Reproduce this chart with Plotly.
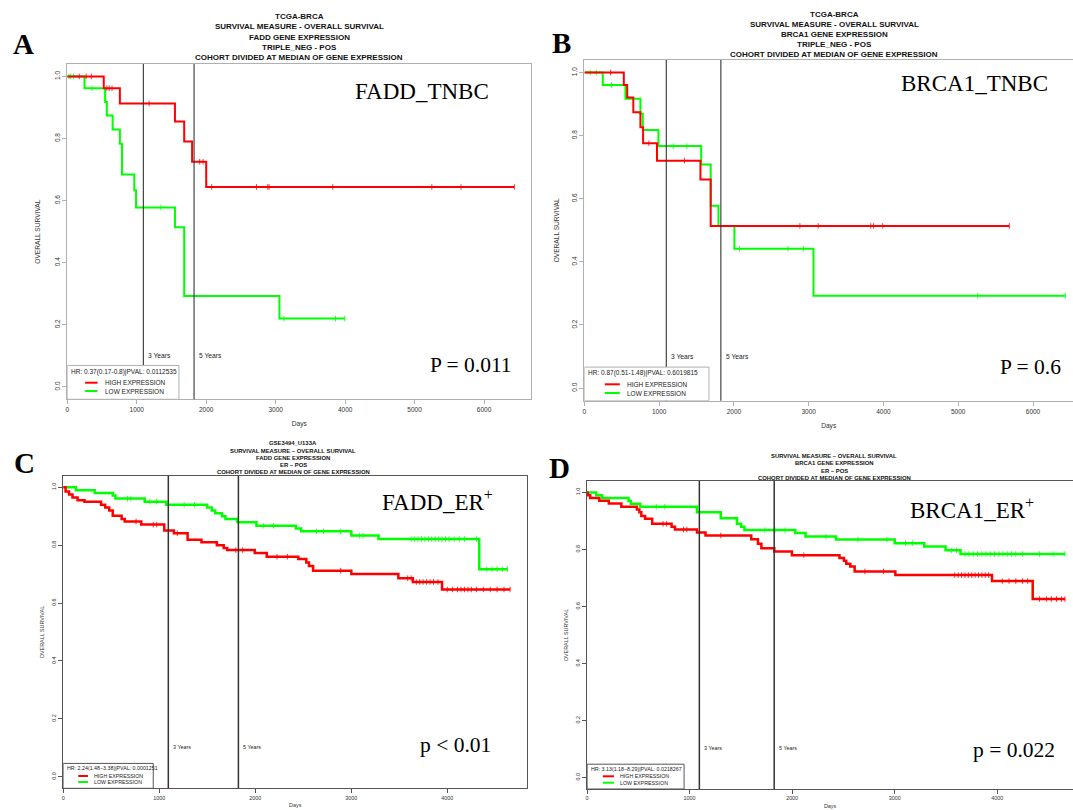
import plotly.graph_objects as go

# ---------------- DATA ----------------
# Panel A: FADD_TNBC (TCGA-BRCA)
A_high_t = [0, 525, 757, 1550, 1683, 1797, 2000, 6436]
A_high_s = [1.0, 0.962, 0.913, 0.855, 0.790, 0.725, 0.644, 0.644]
A_high_cens = [173, 272, 347, 570, 604, 644, 1178, 1906, 1955, 2079, 2723, 2886, 2906, 3822, 5248, 5668, 6436]
A_low_t = [0, 248, 545, 569, 653, 757, 787, 965, 990, 1550, 1683, 3054, 3995]
A_low_s = [1.0, 0.962, 0.918, 0.874, 0.829, 0.783, 0.684, 0.633, 0.578, 0.514, 0.293, 0.220, 0.220]
A_low_cens = [25, 50, 90, 356, 1347, 3119, 3861, 3995]

# Panel B: BRCA1_TNBC (TCGA-BRCA)
B_high_t = [0, 527, 572, 654, 749, 785, 971, 1552, 1689, 5683]
B_high_s = [1.0, 0.961, 0.921, 0.874, 0.827, 0.776, 0.721, 0.661, 0.514, 0.514]
B_high_cens = [350, 862, 1339, 2882, 3127, 3831, 3868, 3990, 5683]
B_low_t = [0, 245, 549, 749, 781, 990, 1562, 1689, 1793, 2006, 3064, 6432]
B_low_s = [1.0, 0.961, 0.917, 0.870, 0.818, 0.767, 0.709, 0.578, 0.514, 0.442, 0.293, 0.293]
B_low_cens = [77, 159, 363, 1189, 1371, 2074, 2724, 2928, 5261, 6432]

# Panel C: FADD_ER+ (GSE3494_U133A)
C_high_t = [0, 25, 61, 97, 150, 222, 394, 437, 480, 516, 609, 641, 813, 1053, 1153, 1296, 1440,
            1601, 1672, 1708, 1995, 2120, 2449, 2532, 2560, 2603, 3001, 3491, 3642, 3946, 4655]
C_high_s = [1.0, 0.985, 0.975, 0.965, 0.955, 0.950, 0.940, 0.930, 0.920, 0.902, 0.890, 0.882, 0.871,
            0.851, 0.841, 0.819, 0.810, 0.800, 0.790, 0.783, 0.773, 0.760, 0.752, 0.740, 0.728, 0.712,
            0.700, 0.686, 0.673, 0.647, 0.647]
C_high_cens = [759, 938, 974, 1189, 1798, 1869, 2227, 2335, 2890, 3588, 3624, 3678, 3713, 3749, 3785,
               3821, 3857, 3903, 4000, 4054, 4107, 4143, 4179, 4215, 4251, 4304, 4376, 4448, 4519, 4591, 4655]
C_low_t = [0, 132, 329, 516, 544, 849, 1074, 1500, 1547, 1583, 1654, 1690, 1816, 2013, 2424, 2478,
           3001, 3284, 4333, 4627]
C_low_s = [1.0, 0.990, 0.980, 0.972, 0.961, 0.950, 0.940, 0.930, 0.920, 0.910, 0.900, 0.890, 0.879,
           0.867, 0.858, 0.848, 0.833, 0.821, 0.717, 0.717]
C_low_cens = [670, 705, 902, 974, 1260, 1368, 2084, 2192, 2639, 2711, 2890, 3087, 3123, 3624, 3660,
              3696, 3731, 3767, 3803, 3839, 3875, 3910, 3946, 3982, 4018, 4072, 4125, 4179, 4304, 4412,
              4466, 4519, 4573, 4627]

# Panel D: BRCA1_ER+
D_high_t = [0, 5, 30, 119, 212, 334, 486, 510, 529, 566, 635, 824, 857, 1072, 1155, 1601, 1667, 1700,
            1826, 1998, 2462, 2505, 2528, 2567, 2610, 3007, 3950, 4347, 4662]
D_high_s = [1.0, 0.990, 0.980, 0.971, 0.961, 0.950, 0.940, 0.930, 0.917, 0.908, 0.890, 0.880, 0.870,
            0.859, 0.849, 0.836, 0.820, 0.804, 0.793, 0.780, 0.770, 0.760, 0.750, 0.740, 0.723, 0.710,
            0.689, 0.626, 0.626]
D_high_cens = [741, 774, 940, 973, 1304, 2114, 2710, 2892, 3586, 3620, 3653, 3686, 3719, 3752, 3785,
               3818, 3851, 3884, 3917, 4050, 4116, 4182, 4248, 4298, 4414, 4480, 4529, 4579, 4629, 4662]
D_low_t = [0, 89, 146, 404, 427, 519, 1072, 1304, 1462, 1502, 1535, 2031, 2131, 2428, 3001, 3289,
           3497, 3643, 4662]
D_low_s = [1.0, 0.990, 0.980, 0.970, 0.960, 0.950, 0.930, 0.909, 0.890, 0.880, 0.868, 0.858, 0.845,
           0.835, 0.822, 0.810, 0.797, 0.784, 0.784]
D_low_cens = [675, 758, 1734, 1833, 1932, 2329, 2643, 2925, 3107, 3173, 3553, 3603, 3686, 3725, 3768,
              3808, 3851, 3891, 3934, 3974, 4017, 4056, 4099, 4139, 4182, 4248, 4414, 4546, 4662]

y_ticks = [0.0, 0.2, 0.4, 0.6, 0.8, 1.0]
x_ticks_tcga = [0, 1000, 2000, 3000, 4000, 5000, 6000]
x_ticks_er = [0, 1000, 2000, 3000, 4000]
year_lines = [1095, 1825]
year_labels = ["3 Years", "5 Years"]
y_title = "OVERALL SURVIVAL"
x_title = "Days"

# ---------------- LAYOUT HELPERS ----------------
W, H = 1073, 810
SANS = "Liberation Sans, Arial, sans-serif"
SERIF = "Liberation Serif, Times New Roman, serif"
RED = "#ff0000"
GREEN = "#00ff00"


def px(x):
    return x / W


def py(y):
    return 1 - y / H


def surv_at(t, times, surv):
    s = surv[0]
    for ti, si in zip(times, surv):
        if ti <= t:
            s = si
    return s


fig = go.Figure()

panels = [
    dict(key="", high=(A_high_t, A_high_s, A_high_cens), low=(A_low_t, A_low_s, A_low_cens),
         xdom=(65.4, 530.3), ydom=(64.0, 399.3), xr=6680, xt=x_ticks_tcga, fs=6.5, lw=2, frame="#b0b0b0",
         mirror_y=True, box=(1608, 0.069), vlw=1.1, ms=4, tfs=6.6, stand=12, xstand=9),
    dict(key="2", high=(B_high_t, B_high_s, B_high_cens), low=(B_low_t, B_low_s, B_low_cens),
         xdom=(583.5, 1073), ydom=(60.0, 400.7), xr=6535, xt=x_ticks_tcga, fs=6.5, lw=2, frame="#b0b0b0",
         mirror_y=False, box=(1666, 0.0665), vlw=1.1, ms=4, tfs=6.6, stand=10, xstand=9),
    dict(key="3", high=(C_high_t, C_high_s, C_high_cens), low=(C_low_t, C_low_s, C_low_cens),
         xdom=(61.3, 526.2), ydom=(475.7, 788.3), xr=4833, xt=x_ticks_er, fs=5.4, lw=2.5, frame="#555555",
         mirror_y=True, box=(938, 0.046), vlw=1.5, ms=4, tfs=5.4, stand=6, xstand=3),
    dict(key="4", high=(D_high_t, D_high_s, D_high_cens), low=(D_low_t, D_low_s, D_low_cens),
         xdom=(586.2, 1073), ydom=(481.0, 789.0), xr=4740, xt=x_ticks_er, fs=5.4, lw=2.5, frame="#555555",
         mirror_y=False, box=(946, 0.047), vlw=1.5, ms=4, tfs=5.4, stand=6, xstand=3),
]

shapes = []
for p in panels:
    k = p["key"]
    xa, ya = "x" + k, "y" + k
    for (t, s, cens), col in ((p["low"], GREEN), (p["high"], RED)):
        fig.add_trace(go.Scatter(x=t, y=s, mode="lines", line=dict(color=col, width=p["lw"], shape="hv"),
                                 xaxis=xa, yaxis=ya, hoverinfo="skip"))
        fig.add_trace(go.Scatter(x=cens, y=[surv_at(c, t, s) for c in cens], mode="markers",
                                 marker=dict(symbol="line-ns", size=p["ms"], line=dict(color=col, width=0.8)),
                                 xaxis=xa, yaxis=ya, hoverinfo="skip"))
    xname = "xaxis" + k
    yname = "yaxis" + k
    fig.layout[xname] = dict(domain=[px(p["xdom"][0]), px(p["xdom"][1])], range=[0, p["xr"]],
                             anchor=ya, showgrid=False, zeroline=False, showline=True, mirror=True,
                             linecolor=p["frame"], linewidth=1, ticks="outside", ticklen=4,
                             tickcolor=p["frame"], tickvals=p["xt"],
                             tickfont=dict(family=SANS, size=p["fs"], color="#333"),
                             title=dict(text=x_title, standoff=p["xstand"],
                                        font=dict(family=SANS, size=p["tfs"], color="#333")))
    fig.layout[yname] = dict(domain=[py(p["ydom"][1]), py(p["ydom"][0])], range=[-0.04, 1.04],
                             anchor=xa, showgrid=False, zeroline=False, showline=True,
                             mirror=p["mirror_y"], linecolor=p["frame"], linewidth=1, ticks="outside",
                             ticklen=4, tickcolor=p["frame"], tickvals=y_ticks, tickformat=".1f",
                             tickangle=-90, tickfont=dict(family=SANS, size=p["fs"], color="#333"),
                             title=dict(text=y_title, standoff=p["stand"],
                                        font=dict(family=SANS, size=p["tfs"], color="#333")))
    for yl in year_lines:
        shapes.append(dict(type="line", xref=xa, yref=ya + " domain", x0=yl, x1=yl, y0=0, y1=1,
                           line=dict(color="#333333", width=p["vlw"]), layer="above"))
    shapes.append(dict(type="rect", xref=xa, yref=ya, x0=0, x1=p["box"][0], y0=-0.04, y1=p["box"][1],
                       line=dict(color=p["frame"], width=1), fillcolor="white", layer="above"))

annotations = []


def txt(text, x, y, size, family=SANS, xanchor="center", color="#111", angle=0):
    annotations.append(dict(text=text, x=px(x), y=py(y), xref="paper", yref="paper", showarrow=False,
                            xanchor=xanchor, yanchor="middle", textangle=angle,
                            font=dict(family=family, size=size, color=color)))


# Titles
titles_tcga_A = ["TCGA-BRCA", "SURVIVAL MEASURE - OVERALL SURVIVAL", "FADD GENE EXPRESSION",
                 "TRIPLE_NEG - POS", "COHORT DIVIDED AT MEDIAN OF GENE EXPRESSION"]
titles_tcga_B = ["TCGA-BRCA", "SURVIVAL MEASURE - OVERALL SURVIVAL", "BRCA1 GENE EXPRESSION",
                 "TRIPLE_NEG - POS", "COHORT DIVIDED AT MEDIAN OF GENE EXPRESSION"]
titles_C = ["GSE3494_U133A", "SURVIVAL MEASURE \u2013 OVERALL SURVIVAL", "FADD GENE EXPRESSION",
            "ER \u2013 POS", "COHORT DIVIDED AT MEDIAN OF GENE EXPRESSION"]
titles_D = ["SURVIVAL MEASURE \u2013 OVERALL SURVIVAL", "BRCA1 GENE EXPRESSION",
            "ER \u2013 POS", "COHORT DIVIDED AT MEDIAN OF GENE EXPRESSION"]

for line, y in zip(titles_tcga_A, [16.5, 27.0, 37.0, 47.2, 57.5]):
    txt("<b>" + line + "</b>", 298, y, 8)
for line, y in zip(titles_tcga_B, [14.5, 24.7, 34.5, 44.5, 54.7]):
    txt("<b>" + line + "</b>", 834, y, 8)
for line, y in zip(titles_C, [443.3, 450.7, 458.0, 465.0, 472.3]):
    txt("<b>" + line + "</b>", 292, y, 5.9)
for line, y in zip(titles_D, [456.0, 463.3, 470.7, 477.7]):
    txt("<b>" + line + "</b>", 834, y, 5.9)

# Panel letters
for letter, x, y in (("A", 22, 44.4), ("B", 561, 43.5), ("C", 22.3, 463), ("D", 559, 468)):
    txt("<b>" + letter + "</b>", x, y, 29, family=SERIF, color="#000")

# Panel names and p-values
txt("FADD_TNBC", 421, 91.5, 23, family=SERIF, color="#000")
txt("P = 0.011", 470, 365, 21.5, family=SERIF, color="#000")
txt("BRCA1_TNBC", 974, 83, 23, family=SERIF, color="#000")
txt("P = 0.6", 1030, 367, 21.5, family=SERIF, color="#000")
txt("FADD_ER<sup>+</sup>", 436.5, 501, 23, family=SERIF, color="#000")
txt("p < 0.01", 454, 745, 21.5, family=SERIF, color="#000")
txt("BRCA1_ER<sup>+</sup>", 971.7, 508, 23, family=SERIF, color="#000")
txt("p = 0.022", 1013.4, 750, 21.5, family=SERIF, color="#000")

# Year labels
for k, yv, fs in (("", 355.3, 6.7), ("2", 356.7, 6.7), ("3", 746.7, 5.4), ("4", 748.3, 5.4)):
    for xl, lab in zip(year_lines, year_labels):
        annotations.append(dict(text=lab, x=xl, y=py(yv), xref="x" + k, yref="paper", showarrow=False,
                                xanchor="left", yanchor="middle", xshift=3,
                                font=dict(family=SANS, size=fs, color="#222")))

# Legends
legends = [
    ("HR: 0.37(0.17-0.8)|PVAL: 0.0112535", 67.2, 372.0, 101.6, 382.7, 391.0, 83.3, 95.7, 6.5, 2),
    ("HR: 0.87(0.51-1.48)|PVAL: 0.6019815", 585.2, 373.3, 624.3, 384.3, 393.0, 603.9, 618.9, 6.5, 2),
    ("HR: 2.24(1.48\u22123.38)|PVAL: 0.0001251", 63.0, 767.7, 90.2, 776.0, 782.0, 76.4, 86.1, 5.3, 2),
    ("HR: 3.13(1.18\u22128.29)|PVAL: 0.0218267", 587.6, 768.7, 617.5, 776.3, 782.7, 601.9, 613.1, 5.3, 2),
]
for hr, hx, hy, tx, y1, y2, s0, s1, fs, lw in legends:
    txt(hr, hx, hy, fs, xanchor="left", color="#222")
    txt("HIGH EXPRESSION", tx, y1, fs, xanchor="left", color="#222")
    txt("LOW EXPRESSION", tx, y2, fs, xanchor="left", color="#222")
    for yy, col in ((y1, RED), (y2, GREEN)):
        shapes.append(dict(type="line", xref="paper", yref="paper", x0=px(s0), x1=px(s1),
                           y0=py(yy), y1=py(yy), line=dict(color=col, width=lw)))

fig.update_layout(width=W, height=H, margin=dict(l=0, r=0, t=0, b=0), paper_bgcolor="white",
                  plot_bgcolor="white", showlegend=False, shapes=shapes, annotations=annotations)

fig.write_html("out.html")
